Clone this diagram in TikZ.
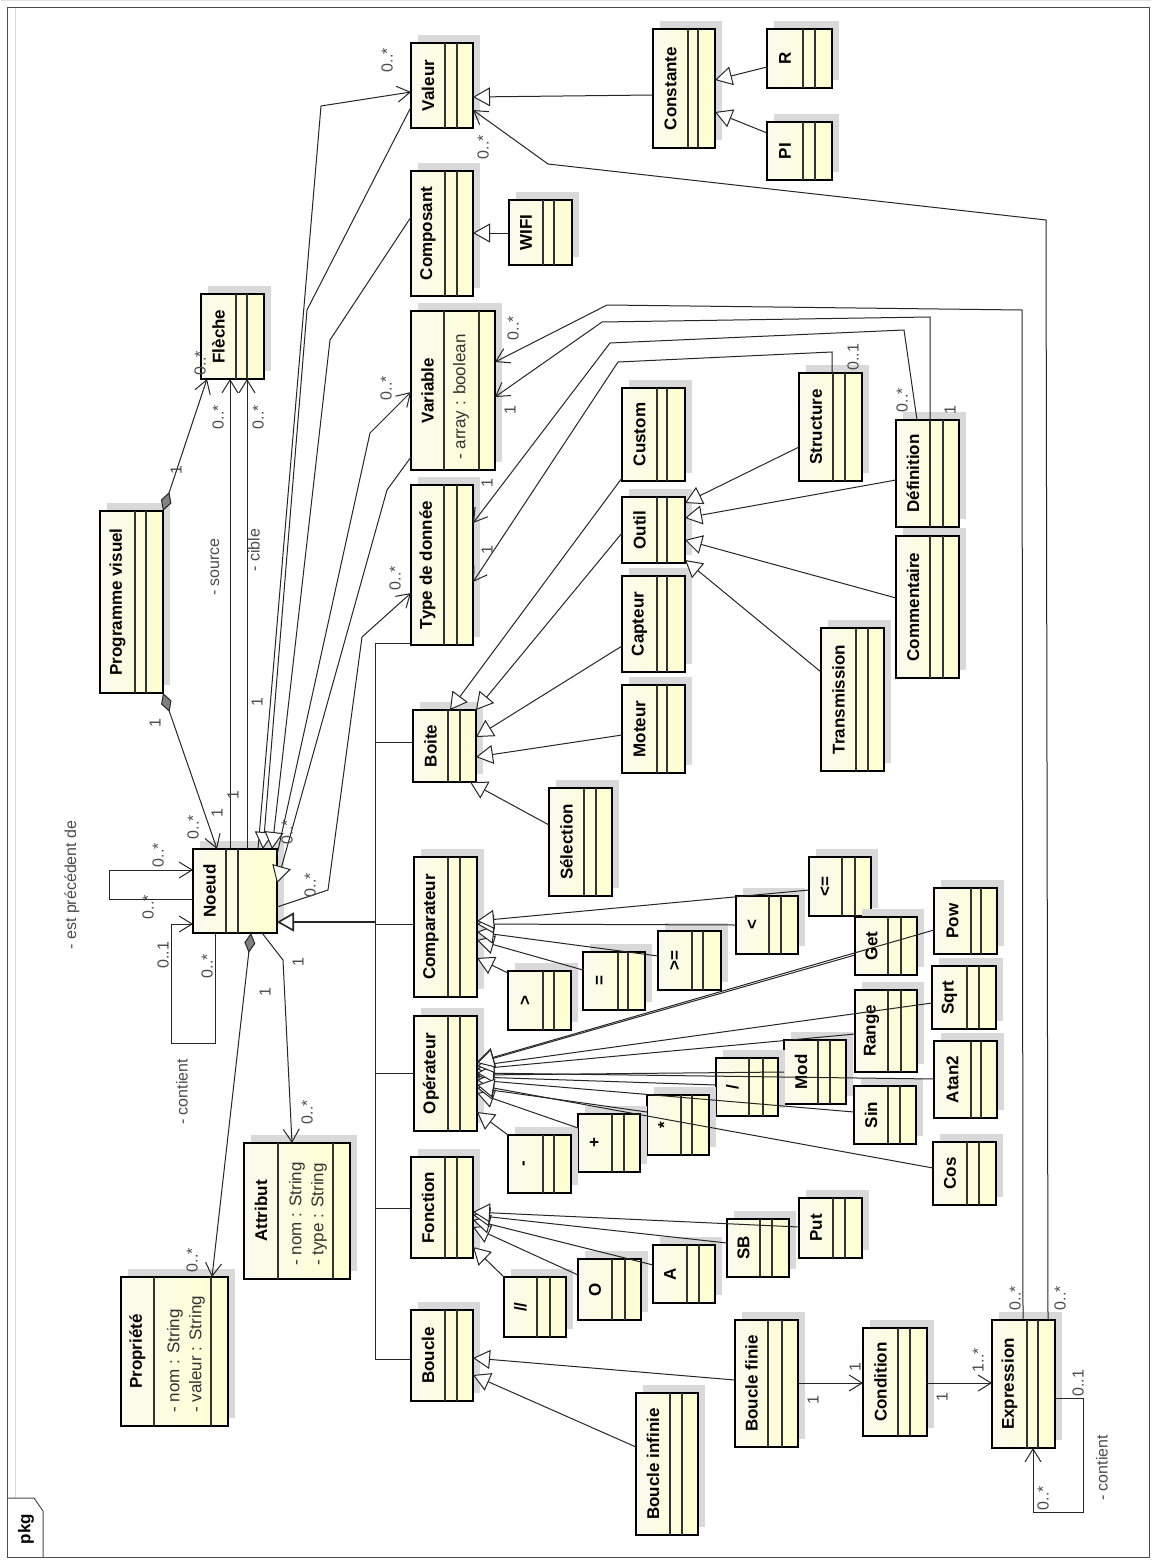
\documentclass[tikz,border=0pt]{standalone}
\usepackage{fontspec}
\setmainfont{Liberation Sans}
\usetikzlibrary{arrows.meta,calc}
\definecolor{boxL}{RGB}{250,250,238}
\definecolor{boxR}{RGB}{255,255,208}
\tikzset{
  cls/.style={draw=black, line width=2.5pt, left color=boxL, right color=boxR, inner sep=0pt, outer sep=0pt},
  compline/.style={draw=black!80, line width=1.3pt},
  cname/.style={font=\bfseries\fontsize{17}{17}\selectfont, rotate=90, inner sep=0pt},
  attr/.style={font=\fontsize{17}{17}\selectfont, rotate=90, inner sep=0pt, anchor=west, text=black!80},
  mult/.style={font=\fontsize{16}{16}\selectfont, rotate=90, inner sep=0pt, text=black!70},
  conn/.style={draw=black!85, line width=1pt},
  assoc/.style={conn, -{Straight Barb[length=13pt,width=16pt]}},
  gen/.style={conn, -{Triangle[length=17pt,width=19pt,fill=white]}},
  compo/.style={conn, {Diamond[length=20pt,width=11pt,fill=black!50]}-{Straight Barb[length=13pt,width=16pt]}},
}
\newcommand\umlc[8]{%
  \fill[black!15] ({#2+7},{#3-8}) rectangle ({#4+7},{#5-8});
  \node[cls, minimum width={(#4-#2)*1pt}, minimum height={(#5-#3)*1pt}] (#1) at ({(#2+#4)/2},{(#3+#5)/2}) {};
  \draw[compline] (#6,#3) -- (#6,#5) (#7,#3) -- (#7,#5);
  \node[cname] (#1-t) at ({(#2+#6)/2},{(#3+#5)/2}) {#8};
}
\begin{document}
\begin{tikzpicture}[x=1pt,y=-1pt]
\useasboundingbox (0,0) rectangle (1152,1560);
\fill[white] (0,0) rectangle (1152,1560);
% frame
\draw[black!12, line width=1pt] (1,1) -- (1151,1);
\draw[black!15, line width=1pt] (15,8) -- (15,1498);
\draw[black!70, line width=1pt] (7,8) -- (1149,8) -- (1149,1557) -- (7,1557) -- cycle;
\draw[black!70, line width=1pt] (43,1557) -- (43,1511) -- (34,1498) -- (7,1498);
\node[font=\bfseries\fontsize{17}{17}\selectfont, rotate=90, inner sep=0pt] (pkg) at (26,1529) {pkg};

% classes
\umlc{fleche}{201}{294}{264}{379}{236}{247}{Flèche}
\umlc{prog}{100}{511}{163}{693}{135}{146}{Programme visuel}
\umlc{noeud}{193}{849}{277}{933}{226}{238}{Noeud}
\umlc{attribut}{244}{1143}{350}{1279}{278}{333}{Attribut}
\umlc{propriete}{121}{1277}{228}{1426}{154}{211}{Propriété}
\umlc{valeur}{411}{43}{473}{128}{445}{457}{Valeur}
\umlc{constante}{653}{29}{715}{148}{688}{698}{Constante}
\umlc{cR}{767}{29}{832}{88}{803}{815}{R}
\umlc{cPI}{767}{122}{832}{180}{803}{815}{PI}
\umlc{composant}{411}{171}{473}{296}{445}{457}{Composant}
\umlc{wifi}{509}{200}{572}{265}{543}{554}{WIFI}
\umlc{variable}{411}{311}{495}{470}{444}{479}{Variable}
\umlc{typed}{411}{485}{473}{645}{444}{457}{Type de donnée}
\umlc{custom}{622}{388}{685}{481}{657}{667}{Custom}
\umlc{outil}{622}{497}{685}{563}{657}{667}{Outil}
\umlc{capteur}{622}{576}{685}{672}{657}{667}{Capteur}
\umlc{moteur}{622}{685}{685}{773}{657}{667}{Moteur}
\umlc{boite}{413}{710}{476}{782}{448}{460}{Boite}
\umlc{structure}{799}{373}{862}{481}{833}{845}{Structure}
\umlc{definition}{896}{420}{959}{527}{930}{943}{Définition}
\umlc{commentaire}{896}{536}{959}{678}{930}{943}{Commentaire}
\umlc{transmission}{821}{628}{884}{771}{856}{868}{Transmission}
\umlc{comparateur}{414}{857}{477}{997}{448}{460}{Comparateur}
\umlc{selection}{549}{788}{612}{896}{584}{596}{Sélection}
\umlc{operateur}{414}{1016}{477}{1131}{448}{460}{Opérateur}
\umlc{cgt}{508}{971}{571}{1030}{543}{554}{>}
\umlc{ceq}{583}{952}{645}{1010}{618}{628}{=}
\umlc{cge}{658}{931}{721}{990}{692}{703}{>=}
\umlc{clt}{736}{896}{798}{954}{769}{781}{<}
\umlc{cle}{809}{857}{871}{916}{842}{855}{<=}
\umlc{cget}{855}{917}{917}{975}{888}{901}{Get}
\umlc{cpow}{934}{888}{997}{954}{971}{981}{Pow}
\umlc{csqrt}{932}{966}{996}{1029}{967}{979}{Sqrt}
\umlc{crange}{855}{990}{917}{1072}{888}{901}{Range}
\umlc{catan}{934}{1041}{997}{1118}{971}{981}{Atan2}
\umlc{cmod}{784}{1040}{846}{1104}{818}{830}{Mod}
\umlc{csin}{854}{1086}{916}{1144}{888}{900}{Sin}
\umlc{cdiv}{716}{1058}{778}{1116}{749}{763}{/}
\umlc{cmul}{647}{1095}{709}{1155}{681}{692}{*}
\umlc{cplus}{578}{1114}{640}{1172}{612}{624}{+}
\umlc{cminus}{508}{1135}{571}{1193}{543}{554}{-}
\umlc{ccos}{933}{1142}{996}{1205}{967}{979}{Cos}
\umlc{fonction}{411}{1157}{473}{1258}{445}{457}{Fonction}
\umlc{cdsl}{504}{1277}{566}{1337}{537}{550}{//}
\umlc{coo}{578}{1259}{641}{1320}{612}{625}{O}
\umlc{caa}{653}{1245}{715}{1303}{687}{699}{A}
\umlc{csb}{727}{1219}{789}{1277}{760}{772}{SB}
\umlc{cput}{799}{1198}{862}{1258}{833}{845}{Put}
\umlc{boucle}{411}{1310}{473}{1401}{445}{457}{Boucle}
\umlc{bfinie}{735}{1320}{798}{1447}{768}{782}{Boucle finie}
\umlc{binfinie}{636}{1393}{698}{1535}{670}{682}{Boucle infinie}
\umlc{condition}{863}{1328}{927}{1436}{898}{910}{Condition}
\umlc{expression}{992}{1320}{1055}{1448}{1027}{1038}{Expression}

% attributes
\node[attr] (a1) at (461,460) {- array : boolean};
\node[attr] (a2) at (297,1266) {- nom : String};
\node[attr] (a3) at (319,1266) {- type : String};
\node[attr] (a4) at (175,1413) {- nom : String};
\node[attr] (a5) at (197,1413) {- valeur : String};

% Programme visuel compositions
\draw[compo] (prog.north east) -- ($(fleche.south west)+(6,0)$);
\draw[compo] (prog.south east) -- ($(noeud.north west)+(24,0)$);
% Noeud -> Fleche
\draw[assoc] ($(noeud.north west)+(37,0)$) -- ($(fleche.south west)+(29,0)$);
\draw[assoc] ($(noeud.north west)+(54,0)$) -- ($(fleche.south west)+(46,0)$);
% Noeud <-> upper classes
\draw[assoc] ($(noeud.north west)+(65,0)$) -- (321,106) -- ($(valeur.north west)+(0,49)$);
\draw[gen] ($(valeur.north west)+(0,64)$) -- (307,310) -- ($(noeud.north west)+(70,0)$);
\draw[gen] ($(composant.north west)+(0,46)$) -- (330,340) -- ($(noeud.north west)+(79,0)$);
\draw[assoc] ($(noeud.north east)+(0,6)$) -- (370,433) -- ($(variable.north west)+(0,81)$);
\draw[gen] ($(variable.north west)+(0,146)$) -- (387,490) -- ($(noeud.north east)+(0,34)$);
\draw[assoc] ($(noeud.north east)+(0,58)$) -- (328,890) -- (362,637) -- ($(typed.north west)+(0,108)$);
% long right-side associations
\draw[assoc] ($(expression.north west)+(56,0)$) -- (1046,220) -- (548,164) -- ($(valeur.north east)+(0,67)$);
\draw[assoc] ($(expression.north west)+(31,0)$) -- (1022,310) -- (607,305) -- ($(variable.north east)+(0,51)$);
\draw[assoc] ($(definition.north west)+(34,0)$) -- (930,317) -- (602,322) -- ($(variable.north east)+(0,86)$);
\draw[assoc] ($(definition.north west)+(21,0)$) -- (904,330) -- (610,343) -- ($(typed.north east)+(0,38)$);
\draw[assoc] ($(structure.north west)+(33,0)$) -- (832,352) -- (618,362) -- ($(typed.north east)+(0,97)$);
% generalisations, top
\draw[gen] ($(constante.north west)+(0,66)$) -- ($(valeur.north east)+(0,54)$);
\draw[gen] ($(cR.north west)+(0,38)$) -- ($(constante.north east)+(0,51)$);
\draw[gen] ($(cPI.north west)+(0,11)$) -- ($(constante.north east)+(0,83)$);
\draw[gen] ($(wifi.north west)+(0,33)$) -- ($(composant.north east)+(0,62)$);
% Boite
\draw[gen] ($(custom.north west)+(0,90)$) -- ($(boite.north west)+(37,0)$);
\draw[gen] ($(outil.north west)+(0,36)$) -- (boite.north east);
\draw[gen] ($(capteur.north west)+(0,70)$) -- ($(boite.north east)+(0,27)$);
\draw[gen] ($(moteur.north west)+(0,50)$) -- ($(boite.north east)+(0,47)$);
\draw[gen] ($(selection.north west)+(0,37)$) -- ($(boite.south west)+(57,0)$);
% Outil
\draw[gen] ($(structure.north west)+(0,74)$) -- ($(outil.north east)+(0,6)$);
\draw[gen] ($(definition.north west)+(0,60)$) -- ($(outil.north east)+(0,21)$);
\draw[gen] ($(commentaire.north west)+(0,62)$) -- ($(outil.north east)+(0,43)$);
\draw[gen] ($(transmission.north west)+(0,44)$) -- ($(outil.north east)+(0,63)$);
% Comparateur
\draw[gen] ($(cgt.north west)+(0,2)$) -- ($(comparateur.north east)+(0,101)$);
\draw[gen] ($(ceq.north west)+(0,18)$) -- ($(comparateur.north east)+(0,83)$);
\draw[gen] ($(cge.north west)+(0,25)$) -- ($(comparateur.north east)+(0,75)$);
\draw[gen] ($(clt.north west)+(0,29)$) -- ($(comparateur.north east)+(0,67)$);
\draw[gen] ($(cle.north west)+(0,33)$) -- ($(comparateur.north east)+(0,64)$);
% Operateur
\draw[gen] (cminus.north west) -- ($(operateur.north east)+(0,96)$);
\draw[gen] ($(cplus.north west)+(0,14)$) -- ($(operateur.north east)+(0,77)$);
\draw[gen] ($(cmul.north west)+(0,17)$) -- ($(operateur.north east)+(0,72)$);
\draw[gen] ($(cdiv.north west)+(0,27)$) -- ($(operateur.north east)+(0,61)$);
\draw[gen] ($(cmod.north west)+(0,32)$) -- ($(operateur.north east)+(0,59)$);
\draw[gen] ($(crange.north west)+(0,44)$) -- ($(operateur.north east)+(0,53)$);
\draw[gen] ($(csin.north west)+(0,26)$) -- ($(operateur.north east)+(0,64)$);
\draw[gen] ($(catan.north west)+(0,38)$) -- ($(operateur.north east)+(0,57)$);
\draw[gen] ($(csqrt.north west)+(0,37)$) -- ($(operateur.north east)+(0,50)$);
\draw[gen] ($(cpow.north west)+(0,42)$) -- ($(operateur.north east)+(0,46)$);
\draw[gen] ($(cget.north west)+(0,38)$) -- ($(operateur.north east)+(0,47)$);
\draw[gen] ($(ccos.north west)+(0,26)$) -- ($(operateur.north east)+(0,69)$);
% Fonction
\draw[gen] (cdsl.north west) -- ($(fonction.north east)+(0,90)$);
\draw[gen] ($(coo.north west)+(0,16)$) -- ($(fonction.north east)+(0,70)$);
\draw[gen] ($(caa.north west)+(0,20)$) -- ($(fonction.north east)+(0,63)$);
\draw[gen] ($(csb.north west)+(0,24)$) -- ($(fonction.north east)+(0,58)$);
\draw[gen] ($(cput.north west)+(0,29)$) -- ($(fonction.north east)+(0,55)$);
% Boucle
\draw[gen] ($(bfinie.north west)+(0,60)$) -- ($(boucle.north east)+(0,48)$);
\draw[gen] ($(binfinie.north west)+(0,54)$) -- ($(boucle.north east)+(0,65)$);
% tree to Noeud
\draw[conn] ($(typed.south west)+(0,-2)$) -- (375,643) -- (375,1359) -- ($(boucle.north west)+(0,49)$);
\draw[conn] (375,742) -- ($(boite.north west)+(0,32)$);
\draw[conn] (375,924) -- ($(comparateur.north west)+(0,67)$);
\draw[conn] (375,1073) -- ($(operateur.north west)+(0,57)$);
\draw[conn] (375,1208) -- ($(fonction.north west)+(0,51)$);
\draw[gen, line width=1.6pt] (375,922) -- ($(noeud.north east)+(0,73)$);
% Noeud lower associations
\draw[compo] ($(noeud.south west)+(58,0)$) -- ($(propriete.north east)+(-16,0)$);
\draw[assoc] ($(noeud.south west)+(69,0)$) -- (283,960) -- ($(attribut.north west)+(48,0)$);
% self loops
\draw[assoc] ($(noeud.north west)+(0,50)$) -- (109,899) -- (109,870) -- ($(noeud.north west)+(0,21)$);
\draw[assoc] ($(noeud.south west)+(22,0)$) -- (215,1043) -- (171,1043) -- (171,924) -- ($(noeud.north west)+(0,75)$);
\draw[assoc] ($(expression.north east)+(0,78)$) -- (1083,1398) -- (1083,1512) -- (1033,1512) -- ($(expression.south west)+(41,0)$);
% Boucle finie -> Condition -> Expression
\draw[assoc] ($(bfinie.north east)+(0,63)$) -- ($(condition.north west)+(0,55)$);
\draw[assoc] ($(condition.north east)+(0,55)$) -- ($(expression.north west)+(0,63)$);

% multiplicities and role names
\node[mult] (m1) at (176,470) {1};
\node[mult] (m2) at (200,363) {0..*};
\node[mult] (m3) at (155,723) {1};
\node[mult] (m4) at (193,827) {0..*};
\node[mult] (m5) at (215,567) {- source};
\node[mult] (m6) at (218,417) {0..*};
\node[mult] (m7) at (217,813) {1};
\node[mult] (m8) at (254,550) {- cible};
\node[mult] (m9) at (258,417) {0..*};
\node[mult] (m10) at (233,795) {1};
\node[mult] (m11) at (387,60) {0..*};
\node[mult] (m12) at (257,702) {1};
\node[mult] (m13) at (386,388) {0..*};
\node[mult] (m14) at (287,832) {0..*};
\node[mult] (m15) at (395,578) {0..*};
\node[mult] (m16) at (310,885) {0..*};
\node[mult] (m17) at (483,147) {0..*};
\node[mult] (m18) at (1060,1298) {0..*};
\node[mult] (m19) at (513,328) {0..*};
\node[mult] (m20) at (1015,1298) {0..*};
\node[mult] (m21) at (510,410) {1};
\node[mult] (m22) at (950,410) {1};
\node[mult] (m23) at (487,483) {1};
\node[mult] (m24) at (902,400) {0..*};
\node[mult] (m25) at (487,550) {1};
\node[mult] (m26) at (853,357) {0..1};
\node[mult] (m27) at (265,992) {1};
\node[mult] (m28) at (192,1260) {0..*};
\node[mult] (m29) at (298,962) {1};
\node[mult] (m30) at (307,1112) {0..*};
\node[mult] (m31) at (158,855) {0..*};
\node[mult] (m32) at (148,907) {0..*};
\node[mult] (m33) at (72,885) {- est précédent de};
\node[mult] (m34) at (163,955) {0..1};
\node[mult] (m35) at (207,966) {0..*};
\node[mult] (m36) at (182,1092) {- contient};
\node[mult] (m37) at (813,1400) {1};
\node[mult] (m38) at (855,1367) {1};
\node[mult] (m39) at (942,1397) {1};
\node[mult] (m40) at (978,1360) {1..*};
\node[mult] (m41) at (1078,1383) {0..1};
\node[mult] (m42) at (1043,1498) {0..*};
\node[mult] (m43) at (1102,1468) {- contient};
\end{tikzpicture}
\end{document}
